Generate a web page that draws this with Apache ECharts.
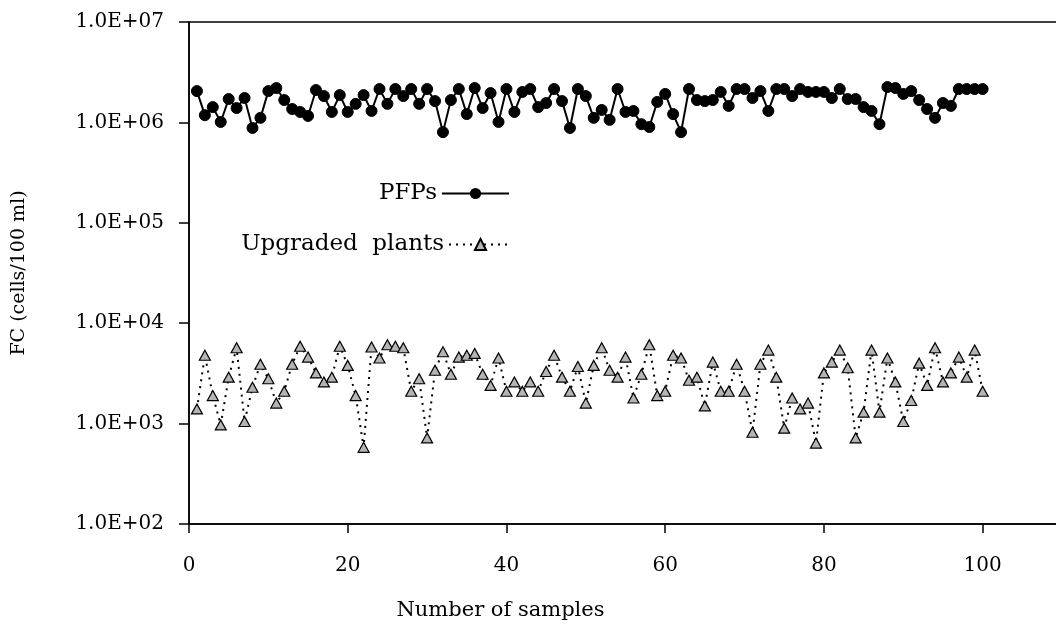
<!DOCTYPE html>
<html lang="en">
<head>
  <meta charset="UTF-8">
  <title>FC counts</title>
  <script src="https://cdn.jsdelivr.net/npm/echarts@6/dist/echarts.min.js"></script>
  <style>
    html, body { margin: 0; padding: 0; width: 100%; height: 100%; background: #fff; }
    #chart { width: 1056px; height: 644px; }
  </style>
</head>
<body>
  <div id="chart"></div>
  <script>
    // FC (cells/100 ml), samples 1..100
    const pfps = [
      2.05e6, 1.18e6, 1.42e6, 1.01e6, 1.71e6, 1.39e6, 1.75e6, 8.8e5, 1.11e6, 2.05e6,
      2.2e6, 1.67e6, 1.36e6, 1.27e6, 1.16e6, 2.1e6, 1.83e6, 1.27e6, 1.87e6, 1.27e6,
      1.53e6, 1.87e6, 1.3e6, 2.15e6, 1.53e6, 2.15e6, 1.83e6, 2.15e6, 1.53e6, 2.15e6,
      1.63e6, 8.0e5, 1.67e6, 2.15e6, 1.21e6, 2.2e6, 1.39e6, 1.96e6, 1.01e6, 2.15e6,
      1.27e6, 2.01e6, 2.15e6, 1.42e6, 1.56e6, 2.15e6, 1.63e6, 8.8e5, 2.15e6, 1.83e6,
      1.11e6, 1.33e6, 1.06e6, 2.15e6, 1.27e6, 1.3e6, 9.6e5, 9.0e5, 1.6e6, 1.92e6,
      1.21e6, 8.0e5, 2.15e6, 1.67e6, 1.63e6, 1.67e6, 2.01e6, 1.46e6, 2.15e6, 2.15e6,
      1.75e6, 2.05e6, 1.3e6, 2.15e6, 2.15e6, 1.83e6, 2.15e6, 2.01e6, 2.01e6, 2.01e6,
      1.75e6, 2.15e6, 1.71e6, 1.71e6, 1.42e6, 1.3e6, 9.6e5, 2.25e6, 2.2e6, 1.92e6,
      2.05e6, 1.67e6, 1.36e6, 1.11e6, 1.56e6, 1.46e6, 2.15e6, 2.15e6, 2.15e6, 2.15e6
    ];
    const upgraded = [
      1.4e3, 4.8e3, 1.9e3, 9.7e2, 2.9e3, 5.7e3, 1.05e3, 2.3e3, 3.9e3, 2.8e3,
      1.6e3, 2.1e3, 3.9e3, 5.9e3, 4.6e3, 3.2e3, 2.6e3, 2.9e3, 5.9e3, 3.8e3,
      1.9e3, 5.8e2, 5.8e3, 4.5e3, 6.1e3, 5.9e3, 5.7e3, 2.1e3, 2.8e3, 7.2e2,
      3.4e3, 5.2e3, 3.1e3, 4.6e3, 4.8e3, 5.0e3, 3.1e3, 2.4e3, 4.5e3, 2.1e3,
      2.6e3, 2.1e3, 2.6e3, 2.1e3, 3.3e3, 4.8e3, 2.9e3, 2.1e3, 3.7e3, 1.6e3,
      3.8e3, 5.7e3, 3.4e3, 2.9e3, 4.6e3, 1.8e3, 3.1e3, 6.1e3, 1.9e3, 2.1e3,
      4.8e3, 4.5e3, 2.7e3, 2.9e3, 1.5e3, 4.1e3, 2.1e3, 2.1e3, 3.9e3, 2.1e3,
      8.2e2, 3.9e3, 5.4e3, 2.9e3, 9.0e2, 1.8e3, 1.4e3, 1.6e3, 6.4e2, 3.2e3,
      4.1e3, 5.4e3, 3.6e3, 7.2e2, 1.3e3, 5.4e3, 1.3e3, 4.5e3, 2.6e3, 1.05e3,
      1.7e3, 4.0e3, 2.4e3, 5.7e3, 2.6e3, 3.2e3, 4.6e3, 2.9e3, 5.4e3, 2.1e3
    ];
    const seriesNames = ['PFPs', 'Upgraded  plants'];
    const xTicks = [0, 20, 40, 60, 80, 100];

    const font = 'DejaVu Serif';
    const toPairs = arr => arr.map((v, i) => [i + 1, v]);

    const chart = echarts.init(document.getElementById('chart'), null, { renderer: 'canvas' });

    const option = {
      backgroundColor: '#fff',
      animation: false,
      grid: {
        // plot box runs past the right edge of the picture
        left: 189,
        right: -6,
        top: 22,
        bottom: 120,
        outerBoundsMode: 'none',
        containLabel: false,
        show: true,
        borderColor: '#000',
        borderWidth: 1.5
      },
      legend: [{
        data: [seriesNames[0]],
        right: 541,
        top: 177,
        align: 'right',
        itemWidth: 67,
        itemHeight: 14,
        textStyle: { fontFamily: font, fontSize: 23, color: '#000' }
      }, {
        data: [seriesNames[1]],
        right: 538,
        top: 228,
        align: 'right',
        itemWidth: 63,
        itemHeight: 14,
        textStyle: { fontFamily: font, fontSize: 23, color: '#000' }
      }],
      xAxis: {
        type: 'value',
        min: 0,
        max: 110,
        interval: 20,
        name: 'Number of samples',
        nameLocation: 'middle',
        nameGap: 76,
        nameTextStyle: { fontFamily: font, fontSize: 21, color: '#000', padding: [0, 250, 0, 0] },
        axisLine: { onZero: false, lineStyle: { color: '#000', width: 1.5 } },
        axisTick: { length: 9, lineStyle: { color: '#000', width: 1.5 } },
        axisLabel: {
          margin: 32,
          fontFamily: font,
          fontSize: 20,
          color: '#000',
          formatter: v => (xTicks.includes(v) ? String(v) : '')
        },
        splitLine: { show: false }
      },
      yAxis: {
        type: 'log',
        logBase: 10,
        min: 100,
        max: 1e7,
        name: 'FC (cells/100 ml)',
        nameLocation: 'middle',
        nameGap: 160,
        nameTextStyle: { fontFamily: font, fontSize: 19, color: '#000' },
        axisLine: { lineStyle: { color: '#000', width: 1.5 } },
        axisTick: { length: 10, lineStyle: { color: '#000', width: 1.5 } },
        minorTick: { show: false },
        axisLabel: {
          margin: 25,
          fontFamily: font,
          fontSize: 20,
          color: '#000',
          formatter: v => '1.0E+' + String(Math.round(Math.log10(v))).padStart(2, '0')
        },
        splitLine: { show: false }
      },
      series: [{
        name: seriesNames[0],
        type: 'line',
        data: toPairs(pfps),
        symbol: 'circle',
        symbolSize: 11,
        lineStyle: { color: '#000', width: 2 },
        itemStyle: { color: '#000', borderColor: '#000' }
      }, {
        name: seriesNames[1],
        type: 'line',
        data: toPairs(upgraded),
        symbol: 'triangle',
        symbolSize: [11, 10],
        lineStyle: { color: '#000', width: 2, type: [2, 5] },
        itemStyle: { color: '#b4b4b4', borderColor: '#000', borderWidth: 1.2 }
      }]
    };

    chart.setOption(option);
  </script>
</body>
</html>
